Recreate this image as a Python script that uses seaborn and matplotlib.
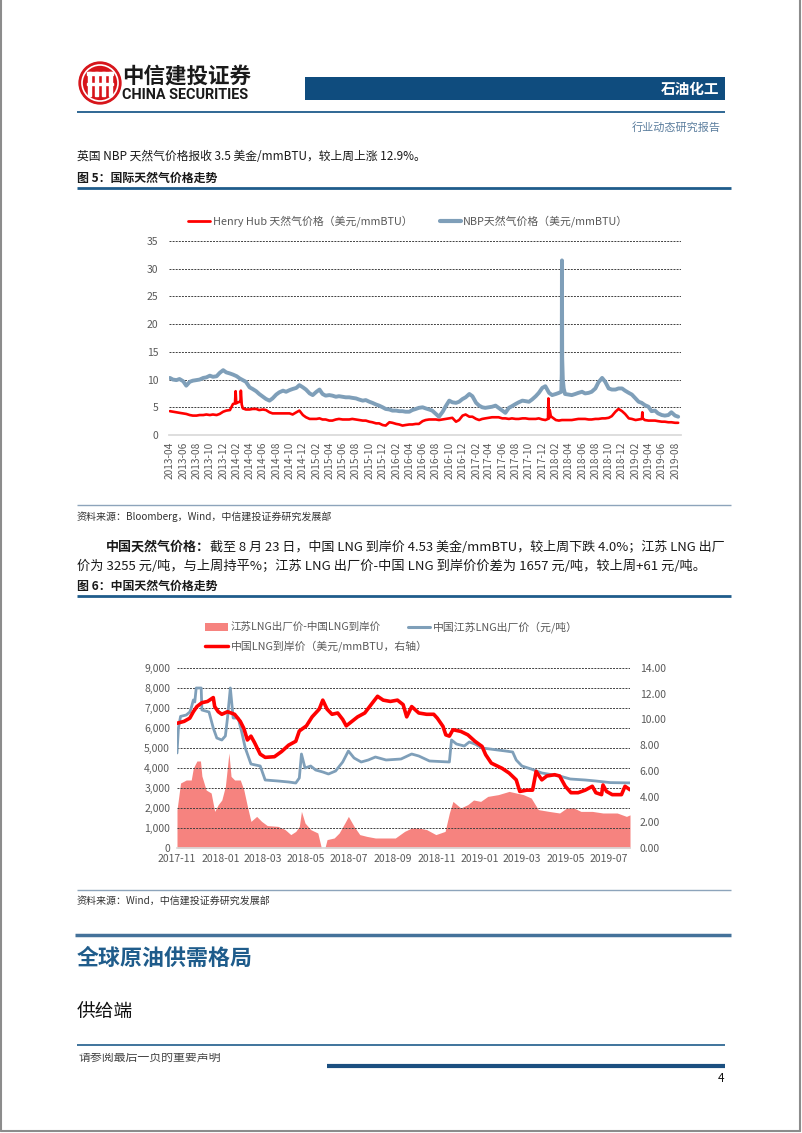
import matplotlib
matplotlib.use("Agg")
import numpy as np
import pandas as pd
import matplotlib.pyplot as plt
from matplotlib.patches import Rectangle, Circle
from matplotlib.lines import Line2D
import seaborn as sns

sns.set_theme(style="white")
plt.rcParams["font.family"] = ["Noto Sans CJK SC", "DejaVu Sans"]
plt.rcParams["axes.unicode_minus"] = False

# ── Data: 图5 国际天然气价格 (semi-monthly readings, 2013-04-01 .. 2019-08-15) ──
nbp_2013 = [10.3, 10.0, 9.9, 10.1, 9.7, 8.9, 9.6, 9.8, 9.9, 10.0, 10.3, 10.4, 10.7, 10.5, 10.6, 11.2, 11.7, 11.3]
nbp_2014 = [11.1, 10.9, 10.6, 10.2, 9.9, 9.6, 8.6, 8.3, 7.9, 7.4, 6.9, 6.5,
            6.2, 6.6, 7.3, 7.7, 8.0, 7.8, 8.1, 8.3, 8.5, 9.0, 8.6, 8.2]
nbp_2015 = [7.5, 7.2, 7.8, 8.2, 7.4, 7.1, 7.2, 7.1, 6.9, 7.0, 6.9, 6.8,
            6.8, 6.7, 6.6, 6.4, 6.2, 6.3, 6.0, 5.8, 5.5, 5.3, 5.0, 4.7]
nbp_2016 = [4.6, 4.4, 4.4, 4.3, 4.3, 4.2, 4.2, 4.5, 4.7, 4.9, 5.0, 4.8,
            4.6, 4.4, 3.8, 3.3, 4.2, 5.2, 6.2, 5.9, 5.8, 6.0, 6.5, 6.8]
nbp_2017 = [7.4, 7.0, 5.8, 5.3, 5.0, 4.9, 5.0, 5.1, 5.3, 4.9, 4.4, 4.0,
            4.9, 5.2, 5.6, 5.9, 6.2, 6.1, 6.0, 6.4, 7.0, 7.6, 8.5, 8.8]
nbp_2018 = [7.6, 7.2, 7.4, 7.6, 31.5, 7.4, 7.3, 7.2, 7.4, 7.6, 7.8, 7.5,
            7.6, 7.8, 8.4, 9.5, 10.3, 9.6, 8.4, 8.2, 8.2, 8.4, 8.4, 8.0]
nbp_2019 = [7.6, 7.3, 6.6, 6.0, 5.8, 5.4, 5.1, 4.3, 4.4, 3.9, 3.6, 3.5, 3.6, 4.1, 3.5, 3.3]
nbp_extra_dates = ["2018-02-26", "2018-02-28", "2018-03-02", "2018-03-05", "2018-03-09"]
nbp_extra_vals = [7.8, 11.0, 14.0, 10.0, 8.4]

hh_2013 = [4.3, 4.2, 4.1, 4.0, 3.9, 3.8, 3.6, 3.5, 3.5, 3.6, 3.6, 3.7, 3.6, 3.7, 3.6, 3.8, 4.2, 4.4]
hh_2014 = [4.5, 5.6, 5.8, 6.0, 4.8, 4.6, 4.6, 4.7, 4.7, 4.5, 4.6, 4.5,
           4.1, 3.9, 3.9, 3.9, 3.9, 3.9, 3.9, 3.7, 4.1, 4.4, 3.6, 3.2]
hh_2015 = [2.9, 2.9, 2.9, 3.0, 2.8, 2.8, 2.6, 2.6, 2.8, 2.9, 2.8, 2.8,
           2.8, 2.9, 2.8, 2.7, 2.6, 2.6, 2.4, 2.3, 2.1, 2.1, 1.8, 1.7]
hh_2016 = [2.3, 2.2, 2.0, 1.9, 1.7, 1.8, 1.9, 1.9, 2.0, 2.0, 2.5, 2.7,
           2.8, 2.8, 2.8, 2.7, 2.8, 2.9, 3.0, 3.1, 2.4, 2.7, 3.5, 3.7]
hh_2017 = [3.3, 3.3, 2.9, 2.7, 2.9, 3.0, 3.1, 3.2, 3.2, 3.2, 3.0, 3.0,
           2.9, 3.0, 2.9, 2.9, 3.0, 3.0, 2.9, 2.9, 2.9, 3.0, 2.8, 2.7]
hh_2018 = [3.0, 3.2, 2.7, 2.6, 2.7, 2.7, 2.7, 2.7, 2.8, 2.9, 2.9, 2.9,
           2.8, 2.8, 2.9, 2.9, 3.0, 3.0, 3.1, 3.4, 4.2, 4.7, 4.3, 3.8]
hh_2019 = [3.0, 2.9, 2.7, 2.8, 2.9, 2.7, 2.6, 2.6, 2.6, 2.5, 2.4, 2.4, 2.3, 2.3, 2.2, 2.2]
hh_extra_dates = ["2014-01-24", "2014-01-27", "2014-01-30", "2014-02-18", "2014-02-20", "2014-02-24",
                  "2017-12-27", "2017-12-29", "2018-01-04", "2018-01-09",
                  "2019-03-02", "2019-03-04", "2019-03-06"]
hh_extra_vals = [5.7, 7.9, 5.7, 6.0, 8.0, 5.5,
                 2.9, 6.6, 4.5, 3.4,
                 2.9, 4.1, 3.0]

# ── Data: 图6 中国天然气价格 ─────────────────────────────────────────────────
js_dates = ["2017-11-01", "2017-11-03", "2017-11-06", "2017-11-14", "2017-11-19", "2017-11-21",
            "2017-11-24", "2017-11-26", "2017-11-28", "2017-12-05", "2017-12-06", "2017-12-16",
            "2017-12-22", "2017-12-27", "2018-01-03", "2018-01-08", "2018-01-11", "2018-01-15",
            "2018-01-19", "2018-01-26", "2018-01-31", "2018-02-05", "2018-02-13", "2018-02-26",
            "2018-03-05", "2018-03-23", "2018-04-07", "2018-04-17", "2018-04-22", "2018-04-25",
            "2018-04-30", "2018-05-08", "2018-05-15", "2018-05-25", "2018-06-02", "2018-06-12",
            "2018-06-22", "2018-06-30", "2018-07-08", "2018-07-18", "2018-07-28", "2018-08-07",
            "2018-08-22", "2018-09-12", "2018-09-27", "2018-10-07", "2018-10-22", "2018-11-19",
            "2018-11-22", "2018-11-29", "2018-12-10", "2018-12-17", "2018-12-25", "2019-01-04",
            "2019-02-06", "2019-02-16", "2019-02-21", "2019-03-01", "2019-03-14", "2019-03-29",
            "2019-04-23", "2019-05-08", "2019-05-29", "2019-06-13", "2019-07-03", "2019-07-31"]
js_price = [4750, 6000, 6580, 6650, 6800, 7000, 7400, 7300, 8000, 8000, 6900, 6800,
            6000, 5500, 5400, 5600, 6500, 8000, 6500, 6500, 5800, 5000, 4200, 4100,
            3400, 3350, 3300, 3250, 3500, 4700, 4000, 4100, 3900, 3800, 3700, 3850,
            4300, 4850, 4500, 4300, 4400, 4550, 4400, 4450, 4700, 4600, 4350, 4300,
            5400, 5200, 5100, 5300, 5200, 5000, 4850, 4800, 4400, 4100, 3950, 3750,
            3600, 3450, 3400, 3350, 3270, 3255]

lng_dates = ["2017-11-01", "2017-11-11", "2017-11-19", "2017-11-24", "2017-11-29", "2017-12-06",
             "2017-12-14", "2017-12-22", "2017-12-24", "2017-12-29", "2018-01-03", "2018-01-11",
             "2018-01-21", "2018-01-29", "2018-02-03", "2018-02-08", "2018-02-13", "2018-02-18",
             "2018-02-26", "2018-03-05", "2018-03-18", "2018-03-28", "2018-04-07", "2018-04-17",
             "2018-04-22", "2018-05-02", "2018-05-10", "2018-05-20", "2018-05-25", "2018-05-31",
             "2018-06-07", "2018-06-15", "2018-06-22", "2018-06-27", "2018-07-05", "2018-07-13",
             "2018-07-23", "2018-08-03", "2018-08-10", "2018-08-18", "2018-08-28", "2018-09-07",
             "2018-09-15", "2018-09-20", "2018-09-27", "2018-10-07", "2018-10-18", "2018-10-28",
             "2018-11-02", "2018-11-10", "2018-11-14", "2018-11-19", "2018-11-24", "2018-12-05",
             "2018-12-15", "2018-12-25", "2019-01-04", "2019-01-09", "2019-01-17", "2019-02-01",
             "2019-02-11", "2019-02-21", "2019-02-26", "2019-03-08", "2019-03-16", "2019-03-21",
             "2019-03-29", "2019-04-05", "2019-04-16", "2019-04-23", "2019-05-01", "2019-05-09",
             "2019-05-19", "2019-05-29", "2019-06-08", "2019-06-13", "2019-06-21", "2019-06-23",
             "2019-06-28", "2019-07-06", "2019-07-19", "2019-07-24", "2019-07-31"]
lng_price = [9.7, 9.85, 10.1, 10.6, 11.0, 11.3, 11.4, 11.7, 11.0, 10.6, 10.4, 10.6,
             10.4, 9.85, 9.3, 8.4, 8.7, 8.2, 7.3, 7.05, 7.1, 7.5, 8.0, 8.3,
             9.1, 9.5, 10.2, 10.8, 11.5, 10.8, 10.4, 10.5, 10.0, 9.5, 9.85, 10.2,
             10.5, 11.3, 11.8, 11.5, 11.4, 11.5, 11.15, 10.2, 11.0, 10.5, 10.4, 10.4,
             10.1, 9.46, 8.8, 8.7, 9.2, 9.07, 8.8, 8.3, 7.9, 7.26, 6.6, 6.2,
             5.83, 5.3, 4.4, 4.5, 4.5, 5.96, 5.3, 5.6, 5.7, 5.6, 4.8, 4.3,
             4.3, 4.5, 4.8, 4.3, 4.15, 4.9, 4.4, 4.15, 4.15, 4.8, 4.53]

spread_dates = ["2017-11-01", "2017-11-06", "2017-11-14", "2017-11-21", "2017-11-24", "2017-11-29",
                "2017-12-04", "2017-12-06", "2017-12-12", "2017-12-19", "2017-12-24", "2017-12-29",
                "2018-01-03", "2018-01-08", "2018-01-13", "2018-01-16", "2018-01-21", "2018-01-29",
                "2018-02-03", "2018-02-08", "2018-02-13", "2018-02-21", "2018-02-28", "2018-03-08",
                "2018-03-23", "2018-04-02", "2018-04-10", "2018-04-17", "2018-04-22", "2018-04-25",
                "2018-04-30", "2018-05-08", "2018-05-18", "2018-05-23", "2018-05-28", "2018-05-31",
                "2018-06-10", "2018-06-17", "2018-06-25", "2018-06-30", "2018-07-08", "2018-07-16",
                "2018-07-26", "2018-08-07", "2018-08-22", "2018-09-04", "2018-09-17", "2018-09-27",
                "2018-10-07", "2018-10-18", "2018-10-31", "2018-11-13", "2018-11-19", "2018-11-24",
                "2018-12-05", "2018-12-15", "2018-12-23", "2019-01-02", "2019-01-12", "2019-01-27",
                "2019-02-11", "2019-02-21", "2019-03-03", "2019-03-14", "2019-03-24", "2019-04-08",
                "2019-04-23", "2019-05-03", "2019-05-13", "2019-05-23", "2019-06-08", "2019-06-23",
                "2019-07-13", "2019-07-26", "2019-07-31"]
spread_vals = [1900, 3250, 3400, 3400, 4000, 4350, 4350, 3600, 2900, 2750, 1830, 2170,
               2400, 3080, 4750, 3580, 3400, 3400, 2900, 2080, 1330, 1580, 1330, 1120,
               1080, 920, 670, 830, 1080, 1830, 1250, 920, 750, 0, 0, 420,
               500, 750, 1250, 1580, 1080, 670, 580, 500, 500, 500, 830, 1000,
               1000, 920, 670, 830, 1750, 2330, 2000, 2170, 2400, 2330, 2580, 2670,
               2830, 2750, 2670, 2500, 1920, 1830, 1750, 2000, 2000, 1830, 1830, 1750,
               1750, 1580, 1657]

c1_ticks = pd.date_range("2013-04-01", "2019-08-01", freq="2MS")
c2_ticks = pd.date_range("2017-11-01", "2019-07-01", freq="2MS")

# ── Build frames ──────────────────────────────────────────────────────────────
semi = pd.date_range("2013-04-01", "2019-08-15", freq="SMS")
nbp = pd.concat([
    pd.DataFrame({"date": semi, "value": nbp_2013 + nbp_2014 + nbp_2015 + nbp_2016 + nbp_2017 + nbp_2018 + nbp_2019}),
    pd.DataFrame({"date": pd.to_datetime(nbp_extra_dates), "value": nbp_extra_vals}),
]).sort_values("date")
hh = pd.concat([
    pd.DataFrame({"date": semi, "value": hh_2013 + hh_2014 + hh_2015 + hh_2016 + hh_2017 + hh_2018 + hh_2019}),
    pd.DataFrame({"date": pd.to_datetime(hh_extra_dates), "value": hh_extra_vals}),
]).sort_values("date")
js = pd.DataFrame({"date": pd.to_datetime(js_dates), "value": js_price})
lng = pd.DataFrame({"date": pd.to_datetime(lng_dates), "value": lng_price})
spread = pd.DataFrame({"date": pd.to_datetime(spread_dates), "value": spread_vals})

# ── Page helpers (pixel coordinates, origin top-left) ───────────────────────
W, H = 802, 1133
fig = plt.figure(figsize=(W / 100, H / 100), dpi=100)
fig.patch.set_facecolor("white")

def fx(x): return x / W
def fy(y): return 1 - y / H

def hline(x0, x1, y, color, lw):
    fig.add_artist(Line2D([fx(x0), fx(x1)], [fy(y), fy(y)], color=color, lw=lw,
                          solid_capstyle="butt"))

def txt(x, y, s, **kw):
    kw.setdefault("va", "center")
    return fig.text(fx(x), fy(y), s, **kw)

def axes_px(x0, y0, x1, y1):
    return fig.add_axes([fx(x0), fy(y1), fx(x1) - fx(x0), (y1 - y0) / H])

NAVY = "#0F4C7E"
BLUE = "#1F5C8B"
GREY = "#595959"
NBP_C = "#7F9FB9"
RED = "#FF0000"
PINK = "#F6837F"

# page frame
for xs, ys in [([1, 1], [0, 1131]), ([800, 800], [0, 1131]), ([1, 800], [1131, 1131])]:
    fig.add_artist(Line2D([fx(v) for v in xs], [fy(v) for v in ys], color="#8C8C8C", lw=1.5))

# ── Header ───────────────────────────────────────────────────────────────────
lax = axes_px(78, 61, 122, 105)
lax.set_xlim(-1.05, 1.05)
lax.set_ylim(-1.05, 1.05)
lax.set_aspect("equal")
lax.axis("off")
lax.add_patch(Circle((0, 0), 1.0, color="#D7141A"))
lax.add_patch(Circle((0, 0), 0.86, fill=False, ec="white", lw=1.2))
for xc in (-0.5, -0.17, 0.17, 0.5):
    lax.add_patch(Rectangle((xc - 0.07, -0.62), 0.14, 1.15, color="white"))
lax.add_patch(Rectangle((-0.62, 0.38), 1.24, 0.14, color="white"))
lax.add_patch(Rectangle((-0.62, -0.1), 1.24, 0.12, color="white"))

txt(122, 76, "中信建投证券", fontsize=15.5, fontweight="bold", color="#1A1A1A")
txt(122, 95, "CHINA SECURITIES", fontsize=10.4, fontweight="bold", color="#1A1A1A",
    family=["Roboto", "DejaVu Sans"])
fig.add_artist(Rectangle((fx(305), fy(100)), fx(725) - fx(305), 23 / H,
                         transform=fig.transFigure, color=NAVY, lw=0))
txt(719, 89, "石油化工", fontsize=10.5, fontweight="bold", color="white", ha="right")
hline(77, 725, 112, BLUE, 1.3)
txt(721, 127, "行业动态研究报告", fontsize=8, color="#5C7E9E", ha="right")

# ── 图5 ──────────────────────────────────────────────────────────────────────
txt(77, 157, "英国 NBP 天然气价格报收 3.5 美金/mmBTU，较上周上涨 12.9%。", fontsize=8.5, color="#1A1A1A")
txt(77, 178, "图 5：国际天然气价格走势", fontsize=8.6, fontweight="bold", color="#1A1A1A")
hline(77, 731, 188, BLUE, 2)

fig.add_artist(Line2D([fx(188), fx(210)], [fy(221), fy(221)], color=RED, lw=2))
txt(213, 221, "Henry Hub 天然气价格（美元/mmBTU）", fontsize=7.8, color=GREY)
fig.add_artist(Line2D([fx(440), fx(461)], [fy(221), fy(221)], color=NBP_C, lw=3))
txt(463, 221, "NBP天然气价格（美元/mmBTU）", fontsize=7.8, color=GREY)

ax1 = axes_px(169, 241, 681, 435)
sns.lineplot(data=nbp, x="date", y="value", ax=ax1, color=NBP_C, lw=2.8)
sns.lineplot(data=hh, x="date", y="value", ax=ax1, color=RED, lw=1.9)
ax1.set_xlim(pd.Timestamp("2013-03-28"), pd.Timestamp("2019-08-28"))
ax1.set_ylim(0, 35)
ax1.set_yticks(range(0, 36, 5))
ax1.set_xticks(c1_ticks)
ax1.set_xticklabels([d.strftime("%Y-%m") for d in c1_ticks], rotation=90)
ax1.set_xlabel("")
ax1.set_ylabel("")
ax1.yaxis.grid(True, linestyle=(0, (2, 1.2)), color="#404040", lw=0.7)
ax1.xaxis.grid(False)
ax1.set_axisbelow(True)
ax1.yaxis.get_gridlines()[0].set_visible(False)
for s in ("top", "right", "left"):
    ax1.spines[s].set_visible(False)
ax1.spines["bottom"].set_color("#D9D9D9")
ax1.tick_params(axis="x", length=3, color="#D9D9D9", labelsize=7.3, labelcolor=GREY, pad=2)
ax1.tick_params(axis="y", length=0, labelsize=7.5, labelcolor=GREY, pad=7.5)
ax1.set_facecolor("none")

hline(77, 731, 505, "#8DA4BB", 1)
txt(77, 517, "资料来源：Bloomberg，Wind，中信建投证券研究发展部", fontsize=7.2, style="italic", color="#333333")

# ── 图6 ──────────────────────────────────────────────────────────────────────
renderer = fig.canvas.get_renderer()
t_bold = txt(106, 547, "中国天然气价格：", fontsize=9.4, fontweight="bold", color="#1A1A1A")
bb = t_bold.get_window_extent(renderer=renderer)
fig.text(bb.x1 / fig.bbox.width, fy(547),
         "截至 8 月 23 日，中国 LNG 到岸价 4.53 美金/mmBTU，较上周下跌 4.0%；江苏 LNG 出厂",
         fontsize=9.4, color="#1A1A1A", va="center")
txt(77, 566, "价为 3255 元/吨，与上周持平%；江苏 LNG 出厂价-中国 LNG 到岸价价差为 1657 元/吨，较上周+61 元/吨。",
    fontsize=9.5, color="#1A1A1A")
txt(77, 586, "图 6：中国天然气价格走势", fontsize=8.6, fontweight="bold", color="#1A1A1A")
hline(77, 731, 596, BLUE, 2)

fig.add_artist(Rectangle((fx(205), fy(631)), fx(228) - fx(205), 8 / H,
                         transform=fig.transFigure, color=PINK, lw=0))
txt(231, 627, "江苏LNG出厂价-中国LNG到岸价", fontsize=7.6, color=GREY)
fig.add_artist(Line2D([fx(408), fx(430)], [fy(627), fy(627)], color=NBP_C, lw=2.2))
txt(433, 627, "中国江苏LNG出厂价（元/吨）", fontsize=7.8, color=GREY)
fig.add_artist(Line2D([fx(205), fx(228)], [fy(646), fy(646)], color=RED, lw=2.5))
txt(231, 646, "中国LNG到岸价（美元/mmBTU，右轴）", fontsize=7.8, color=GREY)

ax2 = axes_px(177, 668, 630, 848)
ax2.fill_between(spread["date"], spread["value"], color=PINK, lw=0, zorder=1)
sns.lineplot(data=js, x="date", y="value", ax=ax2, color=NBP_C, lw=2.0, zorder=3)
ax2.set_xlim(pd.Timestamp("2017-11-01"), pd.Timestamp("2019-07-31"))
ax2.set_ylim(0, 9000)
ax2.set_yticks(range(0, 9001, 1000))
ax2.set_yticklabels([f"{v:,}" for v in range(0, 9001, 1000)])
ax2.set_xticks(c2_ticks)
ax2.set_xticklabels([d.strftime("%Y-%m") for d in c2_ticks])
ax2.set_xlabel("")
ax2.set_ylabel("")
ax2.set_axisbelow("line")
ax2.yaxis.grid(True, linestyle=(0, (2, 1.2)), color="#404040", lw=0.7)
ax2.xaxis.grid(False)
ax2.yaxis.get_gridlines()[0].set_visible(False)
for s in ("top", "right", "left"):
    ax2.spines[s].set_visible(False)
ax2.spines["bottom"].set_color("#D9D9D9")
ax2.tick_params(axis="x", length=0, labelsize=7.5, labelcolor=GREY, pad=4)
ax2.tick_params(axis="y", length=0, labelsize=7.5, labelcolor=GREY, pad=5)

ax2r = ax2.twinx()
sns.lineplot(data=lng, x="date", y="value", ax=ax2r, color=RED, lw=2.6)
ax2r.set_ylim(0, 14)
ax2r.set_yticks(range(0, 15, 2))
ax2r.set_yticklabels([f"{v:.2f}" for v in range(0, 15, 2)])
ax2r.set_ylabel("")
ax2r.grid(False)
for s in ax2r.spines.values():
    s.set_visible(False)
ax2r.tick_params(axis="y", length=0, labelsize=7.5, labelcolor=GREY, pad=7)

hline(77, 731, 890, "#8DA4BB", 1)
txt(77, 901, "资料来源：Wind，中信建投证券研究发展部", fontsize=7.2, style="italic", color="#333333")

# ── Section heading & footer ─────────────────────────────────────────────────
hline(75, 731, 935, "#44729A", 2.5)
txt(77, 958, "全球原油供需格局", fontsize=15.8, fontweight="bold", color=BLUE)
txt(77, 1012, "供给端", fontsize=13.5, color="#111111")
txt(79, 1057, "请参阅最后一页的重要声明", fontsize=8.6, color="#444444")
# the footer note is clipped at the top in the source page
fig.add_artist(Rectangle((fx(77), fy(1053)), fx(300) - fx(77), 6 / H,
                         transform=fig.transFigure, color="white", lw=0, zorder=5))
hline(77, 725, 1045, BLUE, 1.2)
hline(327, 725, 1066, "#1B4F80", 3)
txt(724, 1079, "4", fontsize=8.5, color="#111111", ha="right")

fig.savefig("out.png", dpi=100)
